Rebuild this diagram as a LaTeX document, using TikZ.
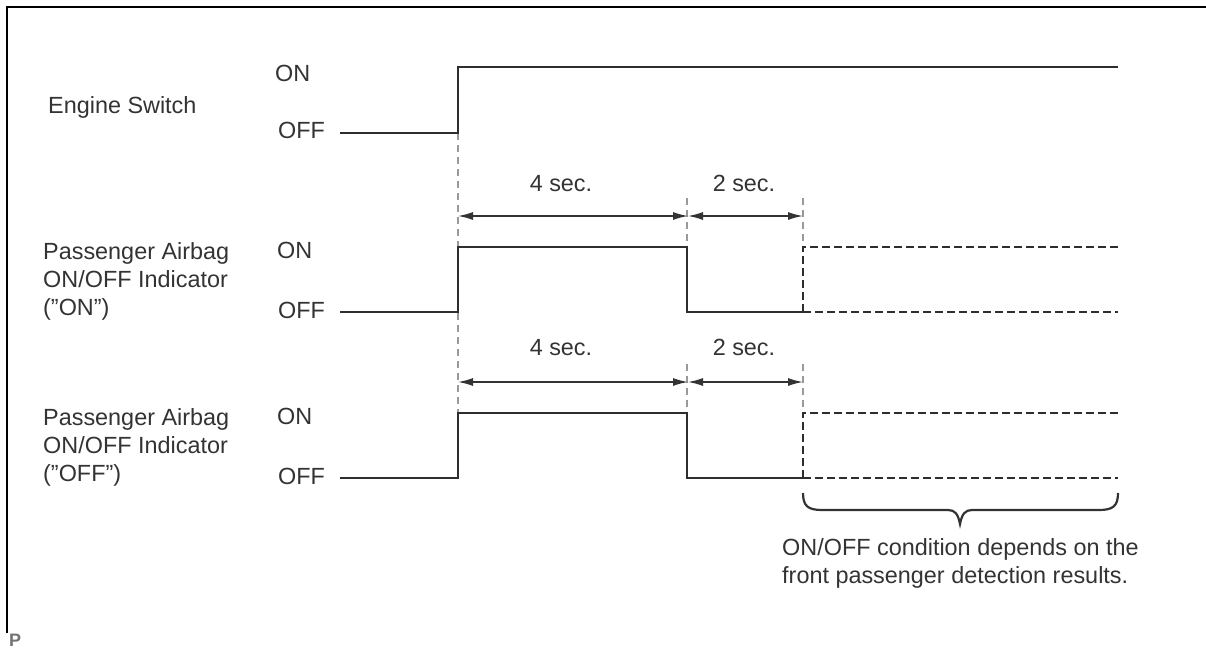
\documentclass[tikz,border=0pt]{standalone}
\usepackage{fontspec}
\setmainfont{Liberation Sans}
\usetikzlibrary{arrows.meta}
\begin{document}
\begin{tikzpicture}[x=1pt,y=-1pt,
  lbl/.style={font=\fontsize{23.4}{28}\selectfont, text=black!80, inner sep=0pt},
  sig/.style={line width=2.6pt, draw=black!82, line join=miter},
  sigdash/.style={line width=2.6pt, draw=black!82, dash pattern=on 8pt off 4pt},
  guide/.style={line width=1.1pt, draw=black!40, dash pattern=on 7pt off 5pt},
  dimline/.style={line width=1.4pt, draw=black!80, {Latex[length=15pt,width=8pt]}-{Latex[length=15pt,width=8pt]}},
  frame/.style={line width=2.2pt, draw=black},
  bracestyle/.style={line width=2.2pt, draw=black!80},
]
\useasboundingbox (0,0) rectangle (1206,651);

% frame
\coordinate (fbl) at (7,633);
\coordinate (ftl) at (7,7);
\coordinate (ftr) at (1206,7);
\draw[frame] (fbl) -- (ftl) -- (ftr);
\node[lbl, font=\fontsize{18}{22}\selectfont\bfseries, text=black!55, anchor=base west] (pmark) at (9,646) {P};

% labels
\node[lbl, anchor=base west] (eng) at (48,113) {Engine Switch};
\node[lbl, anchor=base west] (engon) at (275,81) {ON};
\node[lbl, anchor=base west] (engoff) at (278,138) {OFF};

\node[lbl, anchor=north west, align=left] (ind1) at (43,242) {Passenger Airbag\\ON/OFF Indicator\\(\symbol{34}ON\symbol{34})};
\node[lbl, anchor=base west] (ind1on) at (277,258) {ON};
\node[lbl, anchor=base west] (ind1off) at (278,318) {OFF};

\node[lbl, anchor=north west, align=left] (ind2) at (43,408) {Passenger Airbag\\ON/OFF Indicator\\(\symbol{34}OFF\symbol{34})};
\node[lbl, anchor=base west] (ind2on) at (277,424) {ON};
\node[lbl, anchor=base west] (ind2off) at (278,484) {OFF};

% coordinates
\coordinate (e0) at (340,133);
\coordinate (e1) at (458,133);
\coordinate (e2) at (458,67);
\coordinate (e3) at (1118,67);

\coordinate (a0) at (340,312);
\coordinate (a1) at (458,312);
\coordinate (a2) at (458,247);
\coordinate (a3) at (687,247);
\coordinate (a4) at (687,312);
\coordinate (a5) at (803,312);
\coordinate (a6) at (803,247);
\coordinate (a7) at (1118,247);
\coordinate (a8) at (1118,312);

\coordinate (b0) at (340,478);
\coordinate (b1) at (458,478);
\coordinate (b2) at (458,413);
\coordinate (b3) at (687,413);
\coordinate (b4) at (687,478);
\coordinate (b5) at (803,478);
\coordinate (b6) at (803,413);
\coordinate (b7) at (1118,413);
\coordinate (b8) at (1118,478);

% guides
\coordinate (g1a) at (458,413);
\coordinate (g2a) at (687,198);
\coordinate (g2b) at (687,243);
\coordinate (g3a) at (803,198);
\coordinate (g4a) at (687,364);
\coordinate (g4b) at (687,409);
\coordinate (g5a) at (803,364);
\draw[guide] (e1) -- (g1a);
\draw[guide] (g2a) -- (g2b);
\draw[guide] (g3a) -- (a6);
\draw[guide] (g4a) -- (g4b);
\draw[guide] (g5a) -- (b6);

% signals
\draw[sig] (e0) -- (e1) -- (e2) -- (e3);
\draw[sig] (a0) -- (a1) -- (a2) -- (a3) -- (a4) -- (a5);
\draw[sigdash] (a5) -- (a6) -- (a7);
\draw[sigdash] (a5) -- (a8);
\draw[sig] (b0) -- (b1) -- (b2) -- (b3) -- (b4) -- (b5);
\draw[sigdash] (b5) -- (b6) -- (b7);
\draw[sigdash] (b5) -- (b8);

% dimension arrows
\coordinate (d1a) at (458,216);
\coordinate (d1b) at (688,216);
\coordinate (d1c) at (803,216);
\coordinate (d2a) at (458,382);
\coordinate (d2b) at (688,382);
\coordinate (d2c) at (803,382);
\draw[dimline] (d1a) -- (d1b);
\draw[dimline] (d1b) -- (d1c);
\draw[dimline] (d2a) -- (d2b);
\draw[dimline] (d2b) -- (d2c);
\node[lbl, anchor=base] (t4a) at (561,191) {4 sec.};
\node[lbl, anchor=base] (t2a) at (744,191) {2 sec.};
\node[lbl, anchor=base] (t4b) at (561,355) {4 sec.};
\node[lbl, anchor=base] (t2b) at (744,355) {2 sec.};

% brace
\coordinate (brl) at (803,493);
\coordinate (brr) at (1118,493);
\coordinate (brt) at (960,524);
\draw[bracestyle] (brl) .. controls (803,506) and (808,510) .. (822,510)
  -- (948,510) .. controls (955,510) and (958,514) .. (brt)
  .. controls (962,514) and (965,510) .. (972,510)
  -- (1099,510) .. controls (1113,510) and (1118,506) .. (brr);
\node[lbl, anchor=north west, align=left] (note) at (782,538) {ON/OFF condition depends on the\\front passenger detection results.};
\end{tikzpicture}
\end{document}
